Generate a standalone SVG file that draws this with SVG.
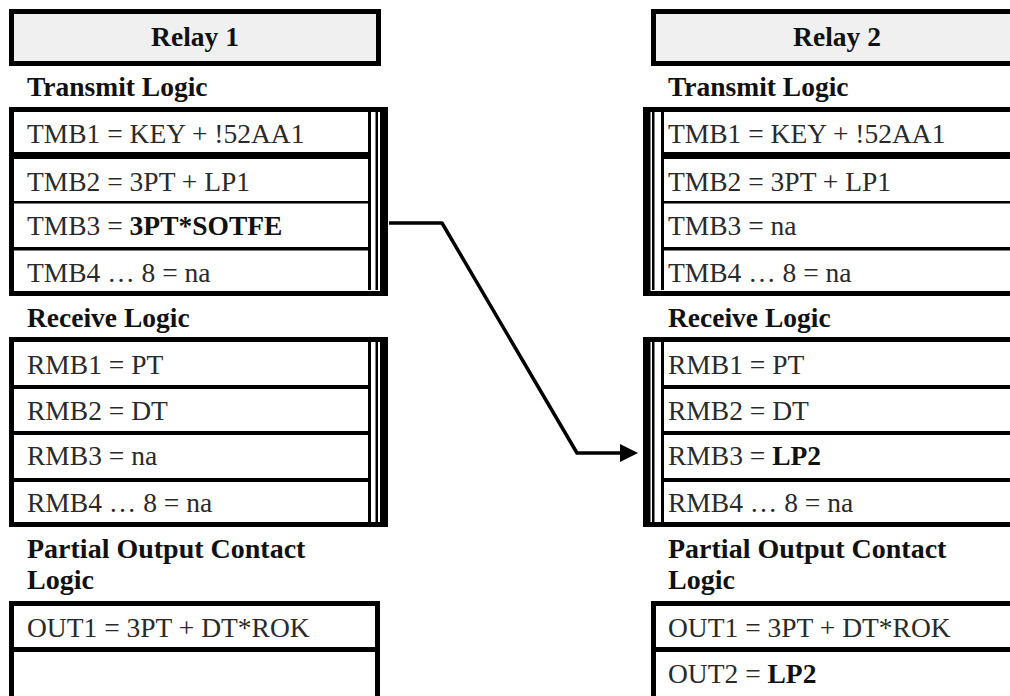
<svg xmlns="http://www.w3.org/2000/svg" width="1010" height="696" viewBox="0 0 1010 696">
<style>
.t{font-family:"Liberation Serif","Times New Roman",serif;font-size:27.5px;fill:#2a2a2a}
.b{font-family:"Liberation Serif","Times New Roman",serif;font-size:27.5px;font-weight:bold;fill:#111}
.hdr{fill:#f0f0f0;stroke:#000;stroke-width:5}
.box{fill:#fff;stroke:#000;stroke-width:5}
.k{fill:#000}
.conn{fill:none;stroke:#000;stroke-width:3.5;stroke-linejoin:round}
</style>
<defs>
<marker id="arr" viewBox="0 0 18 18" markerWidth="18" markerHeight="18" refX="2" refY="9" markerUnits="userSpaceOnUse" orient="auto">
<path d="M0,0 L18,9 L0,18 z" fill="#000"/>
</marker>
</defs>
<rect width="1010" height="696" fill="#fff"/>

<g id="relay1">
  <g id="relay1-header">
    <rect class="hdr" x="11.5" y="11.5" width="367" height="52"/>
    <text class="b" x="195" y="46" text-anchor="middle">Relay 1</text>
  </g>
  <g id="relay1-transmit">
    <text class="b" x="27" y="96">Transmit Logic</text>
    <rect class="box" x="11.5" y="109.5" width="374" height="184"/>
    <rect class="k" x="380" y="107" width="8" height="189"/>
    <rect class="k" x="375.5" y="112" width="2.5" height="178"/>
    <rect class="k" x="368" y="112" width="3" height="178"/>
    <rect class="k" x="14" y="152" width="355" height="7"/>
    <rect class="k" x="14" y="201" width="355" height="2.5"/>
    <rect class="k" x="14" y="247" width="355" height="3.5"/>
    <text class="t" x="27" y="142.5">TMB1 = KEY + !52AA1</text>
    <text class="t" x="27" y="191">TMB2 = 3PT + LP1</text>
    <text class="t" x="27" y="235">TMB3 = <tspan class="b">3PT*SOTFE</tspan></text>
    <text class="t" x="27" y="281.5">TMB4 … 8 = na</text>
  </g>
  <g id="relay1-receive">
    <text class="b" x="27" y="327">Receive Logic</text>
    <rect class="box" x="11.5" y="339.5" width="374" height="185"/>
    <rect class="k" x="380" y="337" width="8" height="190"/>
    <rect class="k" x="375.5" y="342" width="2.5" height="180"/>
    <rect class="k" x="368" y="342" width="3" height="180"/>
    <rect class="k" x="14" y="385" width="355" height="4"/>
    <rect class="k" x="14" y="431" width="355" height="4"/>
    <rect class="k" x="14" y="478" width="355" height="4"/>
    <text class="t" x="27" y="374">RMB1 = PT</text>
    <text class="t" x="27" y="420">RMB2 = DT</text>
    <text class="t" x="27" y="465">RMB3 = na</text>
    <text class="t" x="27" y="511.5">RMB4 … 8 = na</text>
  </g>
  <g id="relay1-output">
    <text class="b" x="27" y="558" style="font-size:28px">Partial Output Contact</text>
    <text class="b" x="27" y="589" style="font-size:28px">Logic</text>
    <rect class="box" x="11.5" y="603.5" width="366" height="120"/>
    <rect class="k" x="14" y="647" width="364" height="5"/>
    <text class="t" x="27" y="636.5">OUT1 = 3PT + DT*ROK</text>
  </g>
</g>

<g id="relay2">
  <g id="relay2-header">
    <rect class="hdr" x="653.5" y="11.5" width="367" height="52"/>
    <text class="b" x="837" y="46" text-anchor="middle">Relay 2</text>
  </g>
  <g id="relay2-transmit">
    <text class="b" x="668" y="96">Transmit Logic</text>
    <rect class="box" x="645.5" y="109.5" width="400" height="184"/>
    <rect class="k" x="643" y="107" width="7.5" height="189"/>
    <rect class="k" x="652" y="112" width="2.5" height="178"/>
    <rect class="k" x="661" y="112" width="3" height="178"/>
    <rect class="k" x="664" y="152" width="380" height="7"/>
    <rect class="k" x="664" y="201" width="380" height="2.5"/>
    <rect class="k" x="664" y="247" width="380" height="3.5"/>
    <text class="t" x="668" y="142.5">TMB1 = KEY + !52AA1</text>
    <text class="t" x="668" y="191">TMB2 = 3PT + LP1</text>
    <text class="t" x="668" y="235">TMB3 = na</text>
    <text class="t" x="668" y="281.5">TMB4 … 8 = na</text>
  </g>
  <g id="relay2-receive">
    <text class="b" x="668" y="327">Receive Logic</text>
    <rect class="box" x="645.5" y="339.5" width="400" height="185"/>
    <rect class="k" x="643" y="337" width="7.5" height="190"/>
    <rect class="k" x="652" y="342" width="2.5" height="180"/>
    <rect class="k" x="661" y="342" width="3" height="180"/>
    <rect class="k" x="664" y="385" width="380" height="4"/>
    <rect class="k" x="664" y="431" width="380" height="4"/>
    <rect class="k" x="664" y="478" width="380" height="4"/>
    <text class="t" x="668" y="374">RMB1 = PT</text>
    <text class="t" x="668" y="420">RMB2 = DT</text>
    <text class="t" x="668" y="465">RMB3 = <tspan class="b">LP2</tspan></text>
    <text class="t" x="668" y="511.5">RMB4 … 8 = na</text>
  </g>
  <g id="relay2-output">
    <text class="b" x="668" y="558" style="font-size:28px">Partial Output Contact</text>
    <text class="b" x="668" y="589" style="font-size:28px">Logic</text>
    <rect class="box" x="653.5" y="603.5" width="400" height="120"/>
    <rect class="k" x="656" y="647" width="380" height="5"/>
    <text class="t" x="668" y="636.5">OUT1 = 3PT + DT*ROK</text>
    <text class="t" x="668" y="683">OUT2 = <tspan class="b">LP2</tspan></text>
  </g>
</g>

<g id="connectors">
  <path class="conn" d="M389,223 L442,223 L577,453 L622,453" marker-end="url(#arr)"/>
</g>
</svg>
